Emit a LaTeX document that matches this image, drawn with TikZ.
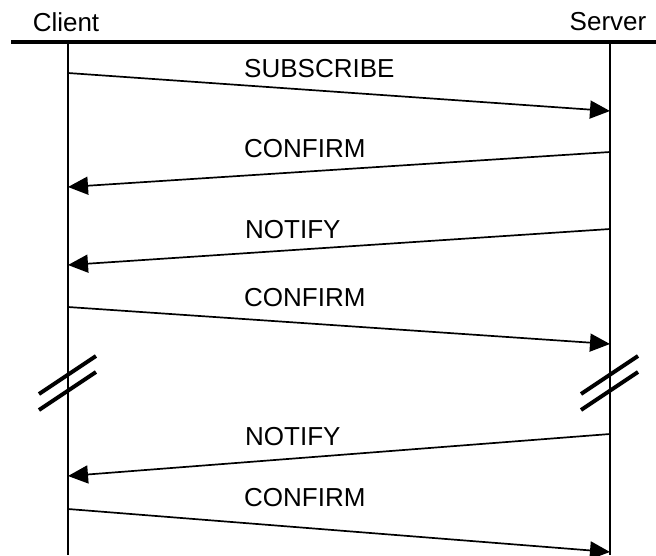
\documentclass[tikz,border=0pt]{standalone}
\usepackage{fontspec}
\setmainfont{Liberation Sans}
\usetikzlibrary{arrows.meta}
\begin{document}
\begin{tikzpicture}[x=1pt,y=-1pt,
  lbl/.style={anchor=base west, inner sep=0pt, font=\fontsize{26}{30}\selectfont},
  hdr/.style={anchor=base, inner sep=0pt, font=\fontsize{26}{30}\selectfont},
  msg/.style={line width=1.7pt, -{Triangle[length=20pt,width=18pt]}},
  life/.style={line width=2.2pt},
  brk/.style={line width=4pt}]
\useasboundingbox (0,0) rectangle (656,555);
% headers
\node[hdr] (client) at (66,31) {Client};
\node[hdr] (server) at (608,30) {Server};
\coordinate (hl) at (11,42);
\coordinate (hr) at (656,42);
\draw[line width=4pt] (hl) -- (hr);
% lifelines
\coordinate (c0) at (68,42);
\coordinate (c1) at (68,555);
\coordinate (s0) at (610,42);
\coordinate (s1) at (610,555);
\draw[life] (c0) -- (c1);
\draw[life] (s0) -- (s1);
% messages
\coordinate (m1a) at (68,73);  \coordinate (m1b) at (610,111);
\coordinate (m2a) at (610,152); \coordinate (m2b) at (68,187);
\coordinate (m3a) at (610,229); \coordinate (m3b) at (68,265);
\coordinate (m4a) at (68,307); \coordinate (m4b) at (610,344);
\coordinate (m5a) at (610,434); \coordinate (m5b) at (68,476);
\coordinate (m6a) at (68,509); \coordinate (m6b) at (610,552);
\draw[msg] (m1a) -- (m1b);
\draw[msg] (m2a) -- (m2b);
\draw[msg] (m3a) -- (m3b);
\draw[msg] (m4a) -- (m4b);
\draw[msg] (m5a) -- (m5b);
\draw[msg] (m6a) -- (m6b);
\node[lbl] (l1) at (244,77) {SUBSCRIBE};
\node[lbl] (l2) at (244,157) {CONFIRM};
\node[lbl] (l3) at (245,238) {NOTIFY};
\node[lbl] (l4) at (244,306) {CONFIRM};
\node[lbl] (l5) at (245,445) {NOTIFY};
\node[lbl] (l6) at (244,506) {CONFIRM};
% break marks
\foreach \x/\n in {68/cb,610/sb}{
  \coordinate (\n1a) at (\x-29,394); \coordinate (\n1b) at (\x+28,356);
  \coordinate (\n2a) at (\x-29,410); \coordinate (\n2b) at (\x+28,372);
  \draw[brk] (\n1a) -- (\n1b);
  \draw[brk] (\n2a) -- (\n2b);
}
\end{tikzpicture}
\end{document}
